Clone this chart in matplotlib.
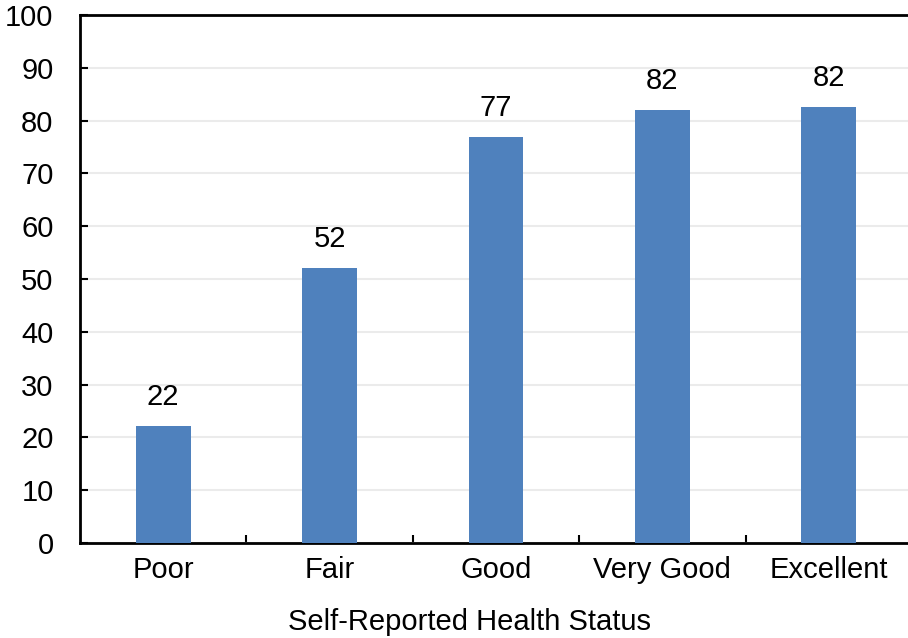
import matplotlib.pyplot as plt

plt.rcParams['font.family'] = ['Liberation Sans', 'DejaVu Sans']

categories = ['Poor', 'Fair', 'Good', 'Very Good', 'Excellent']
values = [22.2, 52.1, 76.9, 82.0, 82.5]
labels = ['22', '52', '77', '82', '82']
yticks = list(range(0, 101, 10))

W, H = 908, 638
fig = plt.figure(figsize=(W / 100, H / 100), dpi=100)
# right edge runs past the image, like the original crop
ax = fig.add_axes([80 / W, 1 - 543 / H, 832 / W, 528 / H])

x = range(len(categories))
ax.bar(x, values, width=0.33, color='#4F81BD', zorder=3)
for i, (v, lab) in enumerate(zip(values, labels)):
    ax.annotate(lab, (i, v), xytext=(0, 11), textcoords='offset points',
                ha='center', va='bottom', fontsize=21)

ax.set_xlim(-0.5, 4.5)
ax.set_ylim(0, 100)
ax.set_yticks(yticks)
ax.set_yticklabels([str(t) for t in yticks], fontsize=21)
ax.set_xticks([i + 0.5 for i in range(4)])
ax.set_xticklabels([])
ax.set_xticks(list(x), minor=True)
ax.set_xticklabels(categories, minor=True, fontsize=21)
ax.tick_params(axis='x', which='minor', length=0, pad=9)
ax.tick_params(axis='x', which='major', direction='in', length=6, width=1.5)
ax.tick_params(axis='y', direction='in', length=6, width=1.5, pad=19)

ax.grid(axis='y', color='#EBEBEB', linewidth=1.5, zorder=0)
for side in ['left', 'bottom', 'top']:
    ax.spines[side].set_linewidth(2)
ax.spines['right'].set_visible(False)

fig.text(470 / W, 1 - 622 / H, 'Self-Reported Health Status', ha='center',
         va='center', fontsize=21)

fig.savefig('out.png', dpi=100)
